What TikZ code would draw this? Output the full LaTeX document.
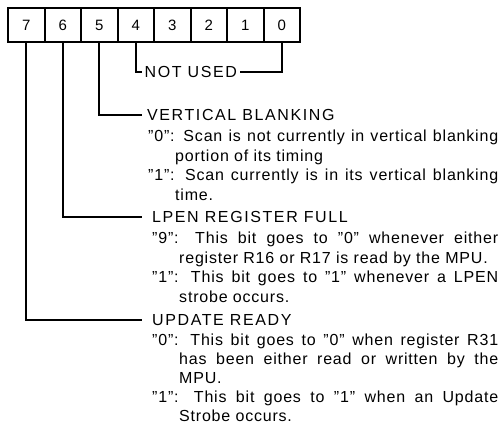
\documentclass[tikz,border=0pt]{standalone}
\usepackage{fontspec}
\setmainfont{Liberation Sans}
\newfontfamily\bodyfont[Ligatures=TeX,LetterSpace=5]{Liberation Sans}
\newfontfamily\capsfont[Ligatures=TeX,LetterSpace=10]{Liberation Sans}
\usetikzlibrary{positioning}
\tikzset{
  bitbox/.style={draw, line width=2pt, minimum width=36.5pt, minimum height=34pt,
    inner sep=0pt, font=\fontsize{15}{17}\selectfont},
  head/.style={anchor=west, inner xsep=5pt, inner ysep=0pt,
    font=\capsfont\fontsize{16}{19.5}\selectfont},
  body/.style={anchor=north west, inner sep=0pt, align=justify,
    font=\bodyfont\fontsize{16}{19.5}\selectfont},
  wire/.style={line width=1.7pt},
}
\newcommand\entry{\par\hangindent=27pt\hangafter=1\noindent\strut}
\begin{document}
\begin{tikzpicture}[x=1pt,y=-1pt]
    \useasboundingbox (0,0) rectangle (500,425);
    % status register bits
    \foreach \b [count=\i from 0] in {7,6,5,4,3,2,1,0}
      \node[bitbox] (b\b) at ({26.25+36.5*\i},25) {\b};
    % unused bits
    \node[head, inner xsep=2.5pt] (nu) at (142,72) {NOT USED};
    \draw[wire] (b4.south) |- (nu.west);
    \draw[wire] (b0.south) |- (nu.east);
    % bit 5
    \node[head] (vbhead) at (142,115) {VERTICAL BLANKING};
    \node[body, text width=350pt] (vbtext) at (148,122) {%
      \entry ''0'': Scan is not currently in vertical blanking\linebreak portion of its timing
      \entry ''1'': Scan currently is in its vertical blanking\linebreak time.\par};
    \draw[wire] (b5.south) |- (vbhead.west);
    % bit 6
    \node[head, inner xsep=10pt] (lphead) at (142,217) {LPEN REGISTER FULL};
    \node[body, text width=346pt] (lptext) at (152,224) {%
      \entry ''9'': This bit goes to ''0'' whenever either\linebreak register R16 or R17 is read by the MPU.
      \entry ''1'': This bit goes to ''1'' whenever a LPEN\linebreak strobe occurs.\par};
    \draw[wire] (b6.south) |- (lphead.west);
    % bit 7
    \node[head, inner xsep=10pt] (udhead) at (142,320) {UPDATE READY};
    \node[body, text width=346pt, font=\bodyfont\fontsize{16}{19}\selectfont] (udtext) at (152,326) {%
      \entry ''0'': This bit goes to ''0'' when register R31\linebreak has been either read or written by the\linebreak MPU.
      \entry ''1'': This bit goes to ''1'' when an Update\linebreak Strobe occurs.\par};
    \draw[wire] (b7.south) |- (udhead.west);
\end{tikzpicture}
\end{document}
